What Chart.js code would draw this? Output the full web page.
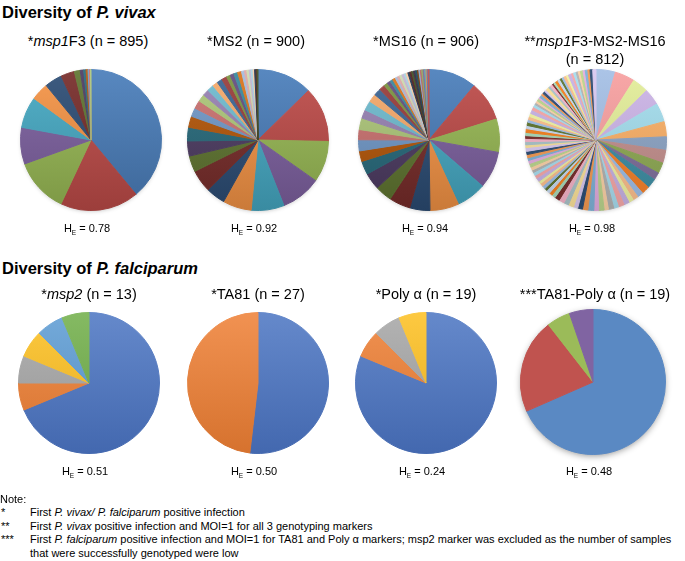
<!DOCTYPE html>
<html>
<head>
<meta charset="utf-8">
<script src="https://cdn.jsdelivr.net/npm/chart.js@4"></script>
<style>
  body { margin: 0; background: #fff; }
  #page { position: relative; width: 685px; height: 561px; overflow: hidden; font-family: "Liberation Sans", Arial, sans-serif; color: #000; }
  .head { position: absolute; left: 2px; font-weight: bold; font-size: 16.5px; line-height: 20px; white-space: nowrap; }
  .ptitle { position: absolute; width: 180px; text-align: center; font-size: 14.5px; line-height: 18px; white-space: nowrap; }
  .he { position: absolute; width: 100px; text-align: center; font-size: 11px; line-height: 14px; white-space: nowrap; }
  .he sub { font-size: 6.5px; vertical-align: -3px; }
  .note { position: absolute; font-size: 11px; line-height: 13.4px; white-space: nowrap; }
  canvas { position: absolute; }
</style>
</head>
<body>
<div id="page"></div>
<script>
// ---- data (allele counts per marker, clockwise from 12 o'clock) ----
const msp1F3 = [349, 161, 112, 75, 64, 36, 36, 28, 12, 7, 5, 4, 3, 2, 1];
const ms2 = [114, 114, 85, 83, 68, 59, 40, 46, 33, 31, 28, 23, 18, 17, 15, 13, 14, 11, 11, 11, 8, 8, 8, 8, 6, 5, 5, 4, 4, 3, 3, 2, 2];
const ms16 = [100, 83, 69, 77, 62, 60, 42, 44, 35, 35, 28, 22, 23, 21, 24, 18, 20, 17, 15, 12, 8,
  7, 6, 6, 5, 5, 5, 5, 4, 4, 4, 4, 4, 4, 4, 3, 3, 3, 3, 3, 3, 2, 2, 2];
const msp1MS2MS16 = [36, 37, 30, 31, 35, 28, 25, 24, 20, 14, 18, 15,
  11, 10, 9, 10, 11, 9, 10, 8, 10, 9, 11, 10, 9, 8, 10, 9, 10, 9, 7,
  6, 7, 5, 6, 6, 5, 7, 6, 6, 5, 6, 7, 6, 5, 6, 6, 7, 5, 6, 6, 5, 6, 7, 6, 6, 5, 6, 6, 7, 6,
  5, 4, 4, 5, 3, 5, 4, 5, 4, 6, 4, 5, 3, 4, 5, 5, 4, 4, 5, 4, 6, 4, 5, 4, 4, 5, 4, 5, 4, 5, 6];
const msp2 = [11, 1, 1, 1, 1, 1];
const ta81 = [14, 13];
const polyA = [13, 1, 1, 1];
const ta81PolyA = [13, 4, 1, 1];

const heValues = ['0.78', '0.92', '0.94', '0.98', '0.51', '0.50', '0.24', '0.48'];
const pieTitles = [
  '*<i>msp1</i>F3 (n = 895)', '*MS2 (n = 900)', '*MS16 (n = 906)', '**<i>msp1</i>F3-MS2-MS16<br>(n = 812)',
  '*<i>msp2</i> (n = 13)', '*TA81 (n = 27)', '*Poly α (n = 19)', '***TA81-Poly α (n = 19)'
];

// ---- colours ----
const excel = [
  '#4a7ebb', '#be4b48', '#98b954', '#7d60a0', '#46aac4', '#f69546',
  '#2c4d75', '#772c2a', '#5f7530', '#4d3b62', '#276a7c', '#b65708',
  '#729aca', '#cd7371', '#afc97a', '#9983b5', '#6fbdd1', '#f9ab6b',
  '#3a6595', '#9a3c3a', '#7a9540', '#644d80', '#37889e', '#dc7418',
  '#a5bcdc', '#dfa8a7', '#cddcb0', '#c2b6d3', '#a8d5e2', '#fbcca5',
  '#1d3350', '#4f1d1c', '#3f4e20', '#332741', '#1a4653', '#793a05',
  '#8aa9d0', '#b86260', '#8fa75a', '#7a6894', '#5aa0b6', '#e88a3c'
];
const pastelHead = ['#a7c1e6', '#f8a2a2', '#e4ee9c', '#cdb6e8', '#a6deee', '#fbb168',
  '#8ea6c6', '#c4908e', '#8faa55', '#7f6f9c', '#3f8ea4', '#f4822a'];
const pastelCycle = ['#9ebfe8', '#fcc08e', '#f0f3a2', '#c8b3e5', '#f7a9a9', '#a8def0', '#b4b4b4',
  '#fdd3a8', '#bcd68e', '#e3aee0', '#7fb2d8', '#f59a52', '#2c4d75', '#d9c9f0', '#fbe29a',
  '#aac4c9', '#f6b4c8', '#772c2a', '#a9d9b8', '#f58220', '#c6d9f1', '#5f7530'];
const pastel = pastelHead.concat(pastelCycle, pastelCycle, pastelCycle, pastelCycle, pastelCycle);
const office = ['#4a74c2', '#ee7f33', '#a5a5a5', '#fdbf1f', '#5c9bd4', '#6fae47'];
const officePoly = ['#4a74c2', '#ee7f33', '#a5a5a5', '#fdbf1f'];
const excel2011 = ['#5a89c3', '#c0534f', '#9bbb59', '#8064a2'];

function shade(hex, amt) {
  const n = parseInt(hex.slice(1), 16);
  let r = n >> 16, g = (n >> 8) & 255, b = n & 255;
  const t = amt < 0 ? 0 : 255, p = Math.abs(amt);
  r = Math.round((t - r) * p + r);
  g = Math.round((t - g) * p + g);
  b = Math.round((t - b) * p + b);
  return `rgb(${r},${g},${b})`;
}

function gradFill(colors, light, dark) {
  return (ctx) => {
    const base = colors[ctx.dataIndex % colors.length];
    const area = ctx.chart.chartArea;
    if (!area || (light === 0 && dark === 0)) return base;
    const g = ctx.chart.ctx.createLinearGradient(0, area.top, 0, area.bottom);
    g.addColorStop(0, shade(base, light));
    g.addColorStop(1, shade(base, -dark));
    return g;
  };
}

// soft shadow behind the whole disc
const pieShadow = {
  id: 'pieShadow',
  beforeDatasetsDraw(chart, args, opts) {
    if (!opts.blur) return;
    const arc = chart.getDatasetMeta(0).data[0];
    const c = chart.ctx;
    c.save();
    c.shadowColor = opts.color;
    c.shadowBlur = opts.blur;
    c.shadowOffsetY = opts.offsetY;
    c.fillStyle = '#fff';
    c.beginPath();
    c.arc(arc.x, arc.y, arc.outerRadius - 1, 0, Math.PI * 2);
    c.fill();
    c.restore();
  }
};

const page = document.getElementById('page');

function addText(cls, html, left, top) {
  const d = document.createElement('div');
  d.className = cls;
  d.innerHTML = html;
  d.style.left = left + 'px';
  d.style.top = top + 'px';
  page.appendChild(d);
}

function makePie(values, colors, cx, cy, r, shadow) {
  const size = 180;
  const cv = document.createElement('canvas');
  cv.width = size; cv.height = size;
  cv.style.left = (cx - size / 2) + 'px';
  cv.style.top = (cy - size / 2) + 'px';
  page.appendChild(cv);
  const fill = colors;
  new Chart(cv, {
    type: 'pie',
    data: {
      labels: values.map((_, i) => 'Allele ' + (i + 1)),
      datasets: [{ data: values, backgroundColor: fill, borderColor: fill, borderWidth: 1, hoverOffset: 0 }]
    },
    options: {
      responsive: false,
      animation: false,
      devicePixelRatio: 1,
      layout: { padding: size / 2 - r },
      plugins: {
        legend: { display: false },
        tooltip: { enabled: false },
        pieShadow: shadow || {}
      }
    },
    plugins: [pieShadow]
  });
}

// ---- headings ----
addText('head', 'Diversity of <i>P. vivax</i>', 2, 2);
addText('head', 'Diversity of <i>P. falciparum</i>', 2, 258);

// ---- pies ----
const lightShadow = { blur: 4, color: 'rgba(0,0,0,0.25)', offsetY: 1.5 };
const pies = [
  { v: msp1F3, c: gradFill(excel, 0.08, 0.18), x: 91, y: 140, r: 71, s: lightShadow },
  { v: ms2, c: gradFill(excel, 0.08, 0.18), x: 258, y: 140, r: 71, s: lightShadow },
  { v: ms16, c: gradFill(excel, 0.08, 0.18), x: 429, y: 140, r: 71, s: lightShadow },
  { v: msp1MS2MS16, c: gradFill(pastel, 0.05, 0.12), x: 596, y: 140, r: 71, s: lightShadow },
  { v: msp2, c: gradFill(office, 0.15, 0.1), x: 89, y: 383, r: 71 },
  { v: ta81, c: gradFill(office, 0.15, 0.1), x: 258, y: 383, r: 71 },
  { v: polyA, c: gradFill(officePoly, 0.15, 0.1), x: 426, y: 383, r: 71 },
  { v: ta81PolyA, c: excel2011, x: 593, y: 382, r: 73, s: { blur: 7, color: 'rgba(0,0,0,0.45)', offsetY: 2 } }
];
const titleY = [32, 32, 32, 32, 285, 285, 285, 285];
const titleX = [88, 256, 426, 595, 89, 258, 426, 595];
pies.forEach((p, i) => {
  makePie(p.v, p.c, p.x, p.y, p.r, p.s);
  addText('ptitle', pieTitles[i], titleX[i] - 90, titleY[i]);
  addText('he', 'H<sub>E</sub> = ' + heValues[i], p.x - 4 - 50, i < 4 ? 221 : 464);
});

// ---- notes ----
const noteMarks = ['', '*', '**', '***', ''];
const noteLines = [
  'Note:',
  'First <i>P. vivax/ P. falciparum</i> positive infection',
  'First <i>P. vivax</i> positive infection and MOI=1 for all 3 genotyping markers',
  'First <i>P. falciparum</i> positive infection and MOI=1 for TA81 and Poly α markers; msp2 marker was excluded as the number of samples',
  'that were successfully genotyped were low'
];
noteLines.forEach((t, i) => {
  const top = 493 + i * 13.4;
  if (i === 0) { addText('note', t, 0, top); return; }
  if (noteMarks[i]) addText('note', noteMarks[i], 1, top);
  addText('note', t, 30, top);
});
</script>
</body>
</html>
